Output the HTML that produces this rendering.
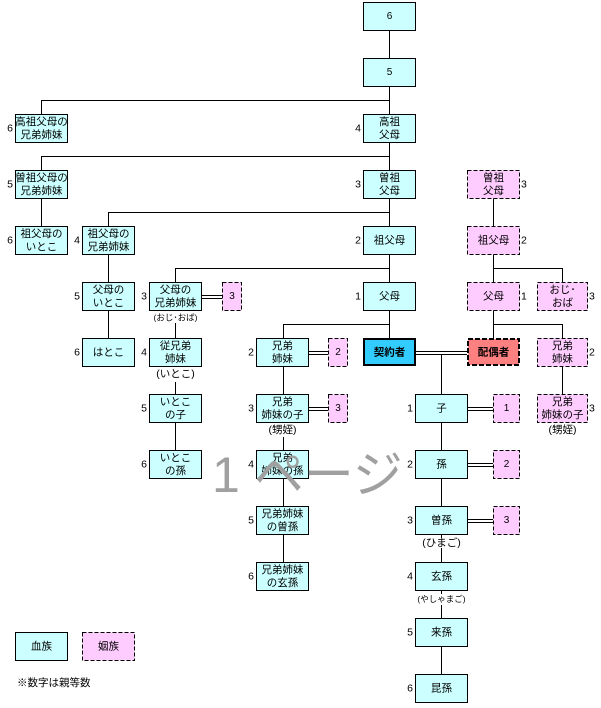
<!DOCTYPE html>
<html><head><meta charset="utf-8"><style>
html,body{margin:0;padding:0;background:#fff;}
svg{display:block;}
text{font-family:"Liberation Sans","Noto Sans CJK JP",sans-serif;font-size:10.5px;fill:#000;}
.n{font-size:10px;}
.s{font-size:8.5px;}
.wm{font-size:50px;fill:#a0a0a0;}
</style></head><body>
<svg width="601" height="708" viewBox="0 0 601 708" xmlns="http://www.w3.org/2000/svg" shape-rendering="crispEdges">
<g stroke="#000" stroke-width="1" fill="none">
<path d="M389.5 30V338"/>
<path d="M41.5 100.5H389.5M41.5 100V114"/>
<path d="M41.5 156.5H389.5M41.5 156V170M41.5 198V226"/>
<path d="M108.5 212.5H389.5M108.5 212V226M108.5 254V282M108.5 310V338"/>
<path d="M175.5 268.5H389.5M175.5 268V282M175.5 323V338M175.5 382V394M175.5 422V450"/>
<path d="M283.5 324.5H389.5M283.5 324V338M283.5 366V394M283.5 437V450M283.5 478V506M283.5 534V562"/>
<path d="M493.5 198V226M493.5 254V282M493.5 310V338"/>
<path d="M493.5 268.5H562.5M562.5 268V282"/>
<path d="M493.5 324.5H562.5M562.5 324V338M562.5 366V394"/>
<path d="M441.5 354V394M441.5 422V450M441.5 478V506M441.5 534V538M441.5 548V562M441.5 590V594M441.5 605V618M441.5 646V674"/>
<path d="M201 295.5H222M201 298.5H222"/>
<path d="M308 351.5H328M308 354.5H328"/>
<path d="M308 407.5H328M308 410.5H328"/>
<path d="M416 351.5H467M416 354.5H467"/>
<path d="M467 407.5H493M467 410.5H493"/>
<path d="M467 463.5H493M467 466.5H493"/>
<path d="M467 519.5H493M467 522.5H493"/>
</g>

<g fill="#CCFFFF" stroke="#000" stroke-width="1">
<rect x="363.5" y="2.5" width="52" height="28"/>
<rect x="363.5" y="58.5" width="52" height="28"/>
<rect x="363.5" y="114.5" width="52" height="28"/>
<rect x="363.5" y="170.5" width="52" height="28"/>
<rect x="363.5" y="226.5" width="52" height="28"/>
<rect x="363.5" y="282.5" width="52" height="28"/>
<rect x="15.5" y="114.5" width="52" height="28"/>
<rect x="15.5" y="170.5" width="52" height="28"/>
<rect x="15.5" y="226.5" width="52" height="28"/>
<rect x="82.5" y="226.5" width="52" height="28"/>
<rect x="82.5" y="282.5" width="52" height="28"/>
<rect x="82.5" y="338.5" width="52" height="28"/>
<rect x="149.5" y="282.5" width="52" height="28"/>
<rect x="149.5" y="338.5" width="52" height="28"/>
<rect x="149.5" y="394.5" width="52" height="28"/>
<rect x="149.5" y="450.5" width="52" height="28"/>
<rect x="256.5" y="338.5" width="52" height="28"/>
<rect x="256.5" y="394.5" width="52" height="28"/>
<rect x="256.5" y="450.5" width="52" height="28"/>
<rect x="256.5" y="506.5" width="52" height="28"/>
<rect x="256.5" y="562.5" width="52" height="28"/>
<rect x="415.5" y="394.5" width="52" height="28"/>
<rect x="415.5" y="450.5" width="52" height="28"/>
<rect x="415.5" y="506.5" width="52" height="28"/>
<rect x="415.5" y="562.5" width="52" height="28"/>
<rect x="415.5" y="618.5" width="52" height="28"/>
<rect x="415.5" y="674.5" width="52" height="28"/>
<rect x="15.5" y="632.5" width="52" height="28"/>
</g>
<g fill="#FFCCFF" stroke="#000" stroke-width="1" stroke-dasharray="4,2">
<rect x="467.5" y="170.5" width="52" height="28"/>
<rect x="467.5" y="226.5" width="52" height="28"/>
<rect x="467.5" y="282.5" width="52" height="28"/>
<rect x="537.5" y="282.5" width="50" height="28"/>
<rect x="537.5" y="338.5" width="50" height="28"/>
<rect x="537.5" y="394.5" width="50" height="28"/>
<rect x="222.5" y="282.5" width="19" height="28"/>
<rect x="328.5" y="338.5" width="19" height="28"/>
<rect x="328.5" y="394.5" width="19" height="28"/>
<rect x="493.5" y="394.5" width="26" height="28"/>
<rect x="493.5" y="450.5" width="26" height="28"/>
<rect x="493.5" y="506.5" width="26" height="28"/>
<rect x="82.5" y="632.5" width="52" height="28"/>
</g>
<rect x="364" y="339" width="51" height="26" fill="#33CCFF" stroke="#000" stroke-width="2"/>
<rect x="468" y="339" width="51" height="26" fill="#FF8080" stroke="#000" stroke-width="2" stroke-dasharray="5,2"/>

<g text-anchor="middle" dominant-baseline="central">
<text x="389.5" y="16.5" class="n">6</text>
<text x="389.5" y="72.5" class="n">5</text>
<text x="389.5" y="122">高祖</text><text x="389.5" y="135">父母</text>
<text x="389.5" y="178">曽祖</text><text x="389.5" y="191">父母</text>
<text x="389.5" y="240.5">祖父母</text>
<text x="389.5" y="296.5">父母</text>
<text x="389.5" y="352.5" style="font-weight:bold">契約者</text>

<text x="41.5" y="122">高祖父母の</text><text x="41.5" y="135">兄弟姉妹</text>
<text x="41.5" y="178">曽祖父母の</text><text x="41.5" y="191">兄弟姉妹</text>
<text x="41.5" y="234">祖父母の</text><text x="41.5" y="247">いとこ</text>
<text x="108.5" y="234">祖父母の</text><text x="108.5" y="247">兄弟姉妹</text>
<text x="108.5" y="290">父母の</text><text x="108.5" y="303">いとこ</text>
<text x="108.5" y="352.5">はとこ</text>
<text x="175.5" y="290">父母の</text><text x="175.5" y="303">兄弟姉妹</text>
<text x="175.5" y="317.5" class="s">(おじ･おば)</text>
<text x="175.5" y="346">従兄弟</text><text x="175.5" y="359">姉妹</text>
<text x="175.5" y="374">(いとこ)</text>
<text x="175.5" y="402">いとこ</text><text x="175.5" y="415">の子</text>
<text x="175.5" y="458">いとこ</text><text x="175.5" y="471">の孫</text>

<text x="282.5" y="346">兄弟</text><text x="282.5" y="359">姉妹</text>
<text x="282.5" y="402">兄弟</text><text x="282.5" y="415">姉妹の子</text>
<text x="282.5" y="430">(甥姪)</text>
<text x="282.5" y="458">兄弟</text><text x="282.5" y="471">姉妹の孫</text>
<text x="282.5" y="514">兄弟姉妹</text><text x="282.5" y="527">の曽孫</text>
<text x="282.5" y="570">兄弟姉妹</text><text x="282.5" y="583">の玄孫</text>

<text x="441.5" y="408.5">子</text>
<text x="441.5" y="464.5">孫</text>
<text x="441.5" y="520.5">曽孫</text>
<text x="441.5" y="543">(ひまご)</text>
<text x="441.5" y="576.5">玄孫</text>
<text x="441.5" y="599" class="s">(やしゃまご)</text>
<text x="441.5" y="632.5">来孫</text>
<text x="441.5" y="688.5">昆孫</text>

<text x="493.5" y="178">曽祖</text><text x="493.5" y="191">父母</text>
<text x="493.5" y="240.5">祖父母</text>
<text x="493.5" y="296.5">父母</text>
<text x="493.5" y="352.5" style="font-weight:bold">配偶者</text>
<text x="562.5" y="290">おじ･</text><text x="562.5" y="303">おば</text>
<text x="562.5" y="346">兄弟</text><text x="562.5" y="359">姉妹</text>
<text x="562.5" y="402">兄弟</text><text x="562.5" y="415">姉妹の子</text>
<text x="562.5" y="430">(甥姪)</text>

<text x="232" y="296.5" class="n">3</text>
<text x="338" y="352.5" class="n">2</text>
<text x="338" y="408.5" class="n">3</text>
<text x="506.5" y="408.5" class="n">1</text>
<text x="506.5" y="464.5" class="n">2</text>
<text x="506.5" y="520.5" class="n">3</text>

<text x="41.5" y="646.5">血族</text>
<text x="108.5" y="646.5">姻族</text>
</g>

<g text-anchor="end" dominant-baseline="central" class="n">
<text x="361" y="128.5">4</text>
<text x="361" y="184.5">3</text>
<text x="361" y="240.5">2</text>
<text x="361" y="296.5">1</text>
<text x="13" y="128.5">6</text>
<text x="13" y="184.5">5</text>
<text x="13" y="240.5">6</text>
<text x="80" y="240.5">4</text>
<text x="80" y="296.5">5</text>
<text x="80" y="352.5">6</text>
<text x="147" y="296.5">3</text>
<text x="147" y="352.5">4</text>
<text x="147" y="408.5">5</text>
<text x="147" y="464.5">6</text>
<text x="254" y="352.5">2</text>
<text x="254" y="408.5">3</text>
<text x="254" y="464.5">4</text>
<text x="254" y="520.5">5</text>
<text x="254" y="576.5">6</text>
<text x="413" y="408.5">1</text>
<text x="413" y="464.5">2</text>
<text x="413" y="520.5">3</text>
<text x="413" y="576.5">4</text>
<text x="413" y="632.5">5</text>
<text x="413" y="688.5">6</text>
</g>
<g text-anchor="start" dominant-baseline="central" class="n">
<text x="521" y="184.5">3</text>
<text x="521" y="240.5">2</text>
<text x="521" y="296.5">1</text>
<text x="589" y="296.5">3</text>
<text x="589" y="352.5">2</text>
<text x="589" y="408.5">3</text>
</g>

<text x="17" y="686">※数字は親等数</text>

<text x="212" y="492" class="wm">1 ページ</text>
</svg>
</body></html>
